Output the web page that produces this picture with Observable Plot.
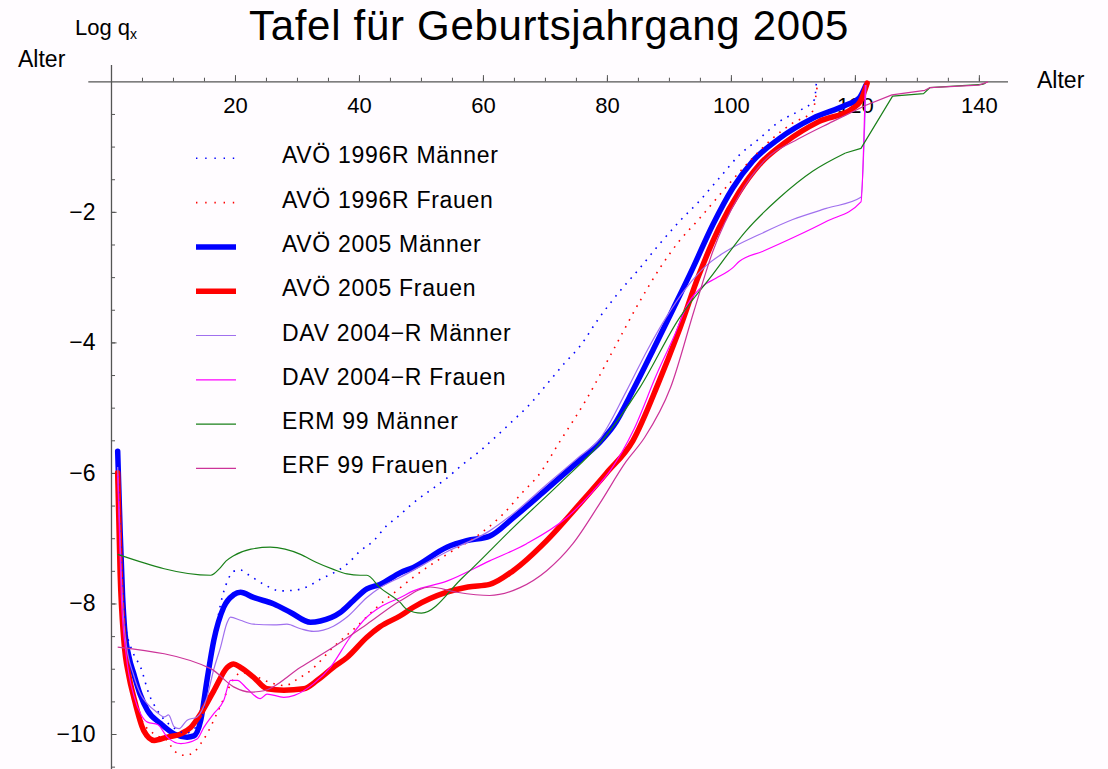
<!DOCTYPE html>
<html><head><meta charset="utf-8">
<script src="https://cdn.jsdelivr.net/npm/d3@7"></script>
<script src="https://cdn.jsdelivr.net/npm/@observablehq/plot@0.6"></script>
<style>
body{margin:0;background:#fffcff;font-family:"Liberation Sans",Arial,Helvetica,sans-serif;}
#wrap{position:relative;width:1108px;height:769px;overflow:hidden;}
#wrap > svg{position:absolute;left:0;top:0;}
</style></head><body><div id="wrap"></div>
<script>
// ---- data: [age, log q_x] ----
const avo1996M = [[1,-5.8],[1.5,-7.2],[2.2,-8.3],[3.5,-8.75],[4.7,-8.97],[6.05,-9.38],[7.4,-9.63],[8.8,-9.8],[10.1,-9.9],[12,-9.98],[13.5,-9.9],[14.5,-9.75],[15.4,-9.3],[16.5,-8.6],[17.6,-8.0],[18.7,-7.65],[19.7,-7.5],[20.8,-7.48],[21.9,-7.54],[24.6,-7.70],[27.2,-7.80],[29.4,-7.79],[31.5,-7.74],[33.7,-7.62],[35.9,-7.52],[38.0,-7.39],[40.1,-7.19],[42.3,-7.03],[44.4,-6.80],[46.0,-6.68],[48.7,-6.45],[52.0,-6.22],[54.1,-6.07],[56.8,-5.85],[59.4,-5.66],[62.2,-5.42],[65,-5.17],[67.6,-4.93],[70,-4.66],[73.0,-4.32],[75.5,-4.06],[78.5,-3.64],[81.9,-3.22],[85.0,-2.88],[88.2,-2.51],[91.6,-2.14],[94.8,-1.83],[98.0,-1.48],[101.3,-1.12],[104.5,-0.87],[107.7,-0.61],[111.0,-0.44],[113.4,-0.27],[113.7,-0.02]];
const avo1996F = [[1,-6.0],[1.6,-7.8],[2.5,-8.9],[3.6,-9.45],[5,-9.8],[7,-10.0],[9.0,-10.09],[10.1,-10.25],[11.9,-10.32],[13.3,-10.27],[14.4,-10.14],[15.4,-9.99],[17.0,-9.68],[18.7,-9.33],[19.7,-9.15],[21,-9.05],[23,-9.1],[25.5,-9.2],[28,-9.25],[30,-9.15],[32.1,-9.02],[35.8,-8.66],[39.5,-8.35],[42.8,-8.05],[46.6,-7.75],[48.7,-7.59],[54.1,-7.24],[59.4,-6.93],[63.2,-6.62],[66.4,-6.28],[68.7,-6.05],[72.4,-5.5],[76.7,-4.85],[81.0,-4.1],[85.3,-3.35],[88.5,-2.85],[91.5,-2.45],[94.8,-2.1],[97.5,-1.8],[100.2,-1.5],[103.4,-1.17],[106.6,-0.87],[109.9,-0.63],[113.1,-0.45],[113.9,-0.02]];
const avo2005M = [[1,-5.66],[1.4,-6.9],[1.8,-7.9],[2.1,-8.36],[2.8,-8.8],[3.6,-9.07],[4.6,-9.38],[5.8,-9.63],[7.9,-9.83],[10.1,-9.99],[12.2,-10.04],[13.3,-10.02],[14.4,-9.78],[15.4,-9.17],[16.5,-8.56],[18.1,-8.05],[19.7,-7.86],[20.8,-7.82],[22.9,-7.90],[26.2,-8.00],[28.9,-8.13],[32.1,-8.28],[33.7,-8.26],[36.9,-8.13],[39.0,-7.95],[41.2,-7.77],[43.3,-7.70],[46.6,-7.52],[48.7,-7.44],[54.1,-7.13],[57.3,-7.03],[61.0,-6.96],[64.8,-6.68],[70.2,-6.24],[75.5,-5.8],[78.8,-5.52],[81.0,-5.27],[84.2,-4.71],[87.4,-4.1],[90.6,-3.48],[93.8,-2.85],[97.0,-2.19],[100.2,-1.63],[103.4,-1.22],[107.7,-0.87],[113.1,-0.56],[118.4,-0.36],[120.6,-0.25],[121.7,-0.05]];
const avo2005F = [[1,-5.99],[1.4,-7.54],[2.0,-8.56],[2.8,-9.1],[3.6,-9.43],[5.2,-9.94],[6.9,-10.09],[9.0,-10.04],[11.2,-9.99],[12.8,-9.89],[14.4,-9.68],[16.5,-9.33],[18.7,-8.97],[19.7,-8.92],[20.8,-8.97],[22.9,-9.12],[25.1,-9.30],[27.8,-9.32],[31.0,-9.30],[33.2,-9.17],[35.8,-8.97],[38.0,-8.82],[41.2,-8.51],[43.3,-8.35],[46.6,-8.18],[48.7,-8.05],[54.1,-7.82],[57.5,-7.74],[61.0,-7.70],[64.8,-7.49],[70.2,-7.03],[75.5,-6.47],[79.8,-6.0],[84.1,-5.5],[88.2,-4.62],[91.4,-3.85],[94.8,-2.95],[98.0,-2.24],[101.3,-1.68],[104.5,-1.27],[108.8,-0.92],[114.1,-0.61],[119.5,-0.41],[120.8,-0.30],[121.9,-0.02]];
const dav2004M = [[1,-5.9],[1.6,-7.6],[2.2,-8.5],[3.6,-9.1],[4.8,-9.4],[5.8,-9.53],[7.2,-9.65],[8.5,-9.73],[9.2,-9.7],[10.1,-9.88],[10.9,-9.91],[12.2,-9.78],[13.8,-9.73],[15.4,-9.43],[16.5,-9.0],[17.6,-8.66],[18.6,-8.3],[19.2,-8.20],[20.8,-8.25],[22.9,-8.31],[26.2,-8.32],[28.3,-8.31],[30.5,-8.38],[32.6,-8.42],[35.8,-8.34],[38.0,-8.20],[41.2,-7.90],[43.3,-7.75],[46.6,-7.59],[54.1,-7.2],[61.0,-6.88],[65,-6.6],[70.2,-6.17],[75.5,-5.74],[78.7,-5.48],[83.0,-4.75],[86.5,-4.1],[89.4,-3.62],[92.7,-3.16],[95.9,-2.82],[99.1,-2.60],[104.5,-2.34],[109.9,-2.11],[115.3,-1.94],[120.9,-1.77],[121.7,-0.05]];
const dav2004F = [[1,-6.0],[1.6,-7.9],[2.4,-8.8],[3.6,-9.4],[4.8,-9.7],[5.8,-9.81],[7.5,-9.85],[9.0,-10.04],[11.2,-10.14],[13.8,-10.07],[14.9,-9.89],[16.5,-9.68],[18.1,-9.48],[19.2,-9.17],[20.3,-9.17],[21.9,-9.30],[24.0,-9.45],[25.1,-9.38],[27.8,-9.43],[29.5,-9.40],[32.6,-9.22],[35.3,-8.97],[38.5,-8.51],[41.2,-8.20],[43.3,-8.05],[46.6,-7.90],[48.7,-7.80],[54.1,-7.65],[61.0,-7.34],[66.9,-7.08],[73.4,-6.68],[77.7,-6.27],[80.5,-5.95],[84.2,-5.34],[88.0,-4.47],[90.7,-3.91],[93.0,-3.4],[95.5,-3.12],[97.5,-3.01],[100.2,-2.85],[101.3,-2.75],[105.0,-2.6],[109.9,-2.39],[115.3,-2.14],[120.9,-1.84],[121.6,-0.05]];
const erm99M = [[1,-7.24],[16.0,-7.56],[17.5,-7.45],[18.5,-7.34],[19.7,-7.26],[22.5,-7.16],[25.6,-7.13],[28,-7.16],[30.5,-7.24],[33,-7.36],[35.8,-7.47],[38,-7.54],[40.1,-7.56],[41.2,-7.56],[43.3,-7.75],[46.6,-7.98],[47.6,-8.08],[50.0,-8.14],[56.7,-7.59],[64.8,-6.83],[72.8,-6.11],[78.7,-5.55],[85.2,-4.69],[91.6,-3.62],[97.0,-2.95],[102.3,-2.29],[107.7,-1.78],[113.1,-1.37],[118.4,-1.09],[120.9,-1.02],[126.0,-0.22],[131.0,-0.18],[132.0,-0.09],[140.5,-0.04],[141.0,-0.02]];
const erf99F = [[1,-8.66],[16,-8.99],[19.7,-9.27],[22.4,-9.35],[24.6,-9.33],[30.5,-8.97],[35.8,-8.66],[41.2,-8.31],[46.6,-7.95],[51.4,-7.74],[55.7,-7.82],[61.0,-7.87],[65.9,-7.75],[70.2,-7.49],[74.4,-7.08],[78.7,-6.47],[83.0,-5.82],[86.0,-5.45],[90.2,-4.68],[94.0,-3.5],[97.0,-2.6],[101.3,-1.73],[105.2,-1.22],[110.9,-0.87],[116.3,-0.61],[121.7,-0.36],[125.9,-0.20],[131.2,-0.13],[132.0,-0.09],[139.9,-0.05],[141.4,0]];

const seriesNames = ["AVÖ 1996R Männer","AVÖ 1996R Frauen","AVÖ 2005 Männer","AVÖ 2005 Frauen","DAV 2004−R Männer","DAV 2004−R Frauen","ERM 99 Männer","ERF 99 Frauen"];
const xMajor = [20,40,60,80,100,120,140];
const xMinor = d3.range(5,141,5);
const yMajor = [-2,-4,-6,-8,-10];
const yMinor = d3.range(1,22).map(i=>-i*0.5);

// ---- styles ----
const styles = {
  "AVÖ 1996R Männer":{data:avo1996M, stroke:"#0000ff", w:1.6, dash:"1.6 6.2", cap:"butt", linearFrom:Infinity},
  "AVÖ 1996R Frauen":{data:avo1996F, stroke:"#ff0000", w:1.6, dash:"1.6 6.2", cap:"butt", linearFrom:Infinity},
  "AVÖ 2005 Männer":{data:avo2005M, stroke:"#0000ff", w:5.5, dash:null, cap:"round", linearFrom:Infinity},
  "AVÖ 2005 Frauen":{data:avo2005F, stroke:"#ff0000", w:5.5, dash:null, cap:"round", linearFrom:Infinity},
  "DAV 2004−R Männer":{data:dav2004M, stroke:"#a070ee", w:1.2, dash:null, cap:"butt", linearFrom:Infinity},
  "DAV 2004−R Frauen":{data:dav2004F, stroke:"#ff00ff", w:1.2, dash:null, cap:"butt", linearFrom:Infinity},
  "ERM 99 Männer":{data:erm99M, stroke:"#1a801a", w:1.2, dash:null, cap:"butt", linearFrom:118.4},
  "ERF 99 Frauen":{data:erf99F, stroke:"#cc3399", w:1.2, dash:null, cap:"butt", linearFrom:121.7}
};
const drawOrder = ["AVÖ 2005 Männer","AVÖ 2005 Frauen","AVÖ 1996R Männer","AVÖ 1996R Frauen","DAV 2004−R Männer","DAV 2004−R Frauen","ERM 99 Männer","ERF 99 Frauen"];

const xDom = [-3.66,144.7], yDom = [-10.536,0.25];
const axisCol = "#555";
const lineMarks = drawOrder.flatMap(n => {
  const s = styles[n];
  const pts = s.data.map(([a,v])=>({a,v}));
  const opts = c => ({x:"a", y:"v", stroke:s.stroke, strokeWidth:s.w,
    strokeDasharray:s.dash||undefined, strokeLinecap:s.cap, strokeLinejoin:"round", curve:c});
  const smooth = pts.filter(p => p.a <= s.linearFrom);
  const lin = pts.filter(p => p.a >= s.linearFrom);
  const out = [Plot.line(smooth, opts("monotone-x"))];
  if (lin.length > 1) out.push(Plot.line(lin, opts("linear")));
  return out;
});

const chart = Plot.plot({
  width:1108, height:769, marginLeft:88.3, marginRight:100, marginTop:65, marginBottom:0,
  x:{domain:xDom, axis:null},
  y:{domain:yDom, axis:null},
  style:{background:"transparent", fontFamily:'"Liberation Sans",Arial,sans-serif', overflow:"visible", color:"black"},
  marks:[
    Plot.ruleY([{y:0,x1:xDom[0],x2:xDom[1]}],{y:"y",x1:"x1",x2:"x2",stroke:axisCol,strokeWidth:1.3}),
    Plot.ruleX([{x:0,y1:yDom[0],y2:yDom[1]}],{x:"x",y1:"y1",y2:"y2",stroke:axisCol,strokeWidth:1.3}),
    Plot.ruleX(xMinor,{x:d=>d,y1:()=>0,y2:()=>0.055,stroke:axisCol,strokeWidth:1}),
    Plot.ruleX(xMajor,{x:d=>d,y1:()=>0,y2:()=>0.095,stroke:axisCol,strokeWidth:1}),
    Plot.ruleY(yMinor,{y:d=>d,x1:()=>0,x2:()=>0.65,stroke:axisCol,strokeWidth:1}),
    Plot.ruleY(yMajor,{y:d=>d,x1:()=>0,x2:()=>0.9,stroke:axisCol,strokeWidth:1}),
    Plot.text(xMajor,{x:d=>d,y:()=>0,text:d=>String(d),dy:24,fontSize:22,fill:"black"}),
    Plot.text(yMajor,{x:()=>0,y:d=>d,text:d=>"\u2212"+Math.abs(d),textAnchor:"end",dx:-16,fontSize:23,fill:"black"}),
    ...lineMarks
  ]
});
document.getElementById("wrap").appendChild(chart);

// ---- overlay: title, axis labels, legend ----
const ov = d3.select("#wrap").append("svg").attr("width",1108).attr("height",769)
  .style("font-family",'"Liberation Sans",Arial,sans-serif').style("pointer-events","none");
ov.append("text").attr("x",549).attr("y",40).attr("text-anchor","middle")
  .attr("font-size",42).style("letter-spacing","0.7px").text("Tafel für Geburtsjahrgang 2005");
const lq = ov.append("text").attr("x",75).attr("y",35).attr("font-size",22);
lq.append("tspan").text("Log q");
lq.append("tspan").attr("font-size",14).attr("dy",4).text("x");
ov.append("text").attr("x",18).attr("y",67).attr("font-size",23).text("Alter");
ov.append("text").attr("x",1037).attr("y",88).attr("font-size",23).text("Alter");

seriesNames.forEach((n,i) => {
  const s = styles[n];
  const base = 163.3 + i*44.3;
  ov.append("line").attr("x1",196).attr("x2",236).attr("y1",base-5).attr("y2",base-5)
    .attr("stroke",s.stroke).attr("stroke-width",s.w)
    .attr("stroke-dasharray", s.dash ? "1.4 7.8" : null);
  ov.append("text").attr("x",282).attr("y",base).attr("font-size",23)
    .style("letter-spacing","0.7px").text(n);
});
</script>
</body></html>
